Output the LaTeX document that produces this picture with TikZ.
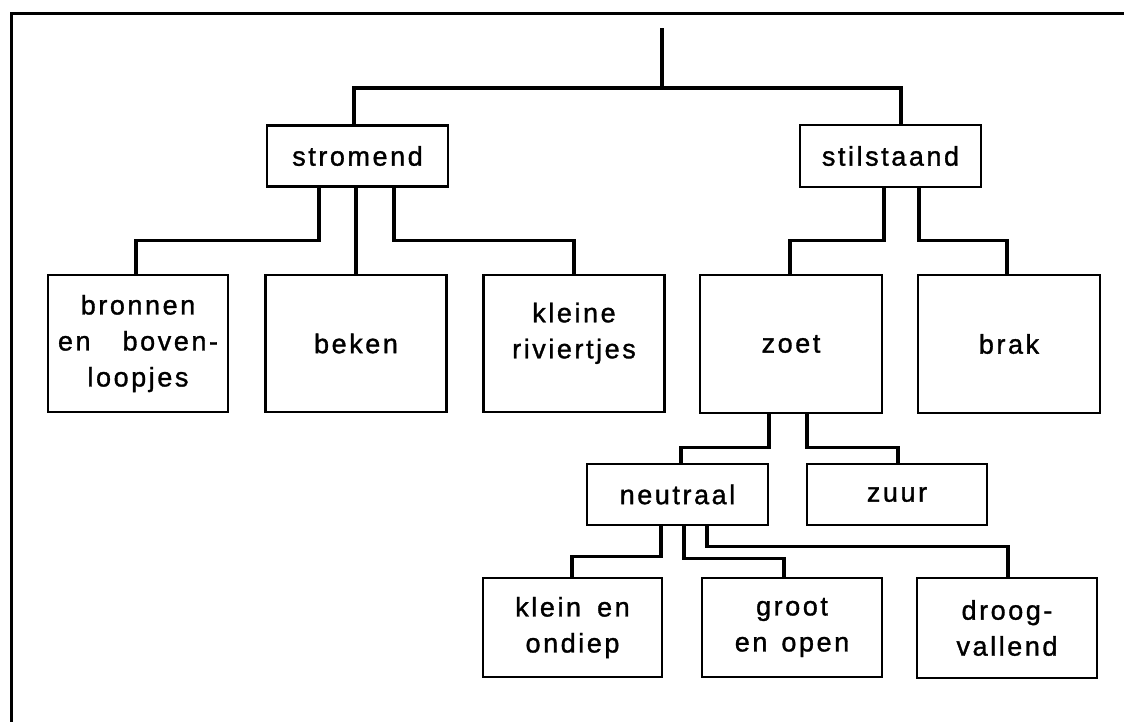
\documentclass[tikz,border=0pt]{standalone}
\usepackage{fontspec}
\setmainfont{Liberation Sans}[LetterSpace=9.5,FakeBold=1.2]
\begin{document}
\begin{tikzpicture}[x=1pt,y=-1pt,
  box/.style={draw,line width=2.4pt,rectangle,inner sep=0pt,align=center,
    font=\fontsize{27}{36}\selectfont},
  conn/.style={line width=3.4pt,line join=miter},
  frame/.style={line width=3pt}]
\useasboundingbox (0,0) rectangle (1124,721);
% frame
\coordinate (fbl) at (11,722);
\coordinate (ftl) at (11,13);
\coordinate (ftr) at (1125,13);
\draw[frame] (fbl) -- (ftl) -- (ftr);
% nodes
\node[box,minimum width=181pt,minimum height=61pt] (stromend) at (357.5,156) {stromend};
\node[box,minimum width=181pt,minimum height=62pt] (stilstaand) at (890.5,156) {stilstaand};
\node[box,minimum width=180pt,minimum height=137pt] (bronnen) at (138,343.5) {bronnen\\\makebox[160pt][s]{en boven-}\\loopjes};
\node[box,minimum width=181pt,minimum height=137pt] (beken) at (356,343.5) {beken};
\node[box,minimum width=181pt,minimum height=137pt] (kleine) at (574,343.5) {kleine\\riviertjes\rule[-26pt]{0pt}{0pt}};
\node[box,minimum width=182pt,minimum height=138pt] (zoet) at (791,344) {zoet};
\node[box,minimum width=182pt,minimum height=138pt] (brak) at (1009,344) {brak};
\node[box,minimum width=181pt,minimum height=61pt] (neutraal) at (677.5,494.5) {neutraal};
\node[box,minimum width=180pt,minimum height=61pt] (zuur) at (897,494.5) {zuur};
\node[box,minimum width=179pt,minimum height=99pt] (klein) at (572.5,627.5) {klein\hspace{6pt} en\\ondiep};
\node[box,minimum width=180pt,minimum height=99pt] (groot) at (792,627.5) {groot\\en\hspace{4pt} open};
\node[box,minimum width=180pt,minimum height=100pt] (droog) at (1007,628) {droog-\\vallend};
% connectors
\coordinate (top) at (662,28);
\coordinate (bar) at (662,88);
\draw[conn] (top) -- (bar);
\draw[conn] (bar) -| ([xshift=-3.5pt]stromend.north);
\draw[conn] (bar) -| ([xshift=10.5pt]stilstaand.north);
\draw[conn] ([xshift=-38.5pt]stromend.south) -- ++(0,53) -| ([xshift=-2pt]bronnen.north);
\draw[conn] ([xshift=-1.5pt]stromend.south) -- (beken.north);
\draw[conn] ([xshift=36.5pt]stromend.south) -- ++(0,53) -| (kleine.north);
\draw[conn] ([xshift=-6.5pt]stilstaand.south) -- ++(0,52) -| ([xshift=-1pt]zoet.north);
\draw[conn] ([xshift=28.5pt]stilstaand.south) -- ++(0,52) -| ([xshift=-2pt]brak.north);
\draw[conn] ([xshift=-22pt]zoet.south) -- ++(0,33) -| ([xshift=3.5pt]neutraal.north);
\draw[conn] ([xshift=16pt]zoet.south) -- ++(0,33) -| ([xshift=1pt]zuur.north);
\draw[conn] ([xshift=-16.5pt]neutraal.south) -- ++(0,30) -| ([xshift=-0.5pt]klein.north);
\draw[conn] ([xshift=6.5pt]neutraal.south) -- ++(0,32) -| ([xshift=-8pt]groot.north);
\draw[conn] ([xshift=29.5pt]neutraal.south) -- ++(0,20) -| ([xshift=1pt]droog.north);
\end{tikzpicture}
\end{document}
